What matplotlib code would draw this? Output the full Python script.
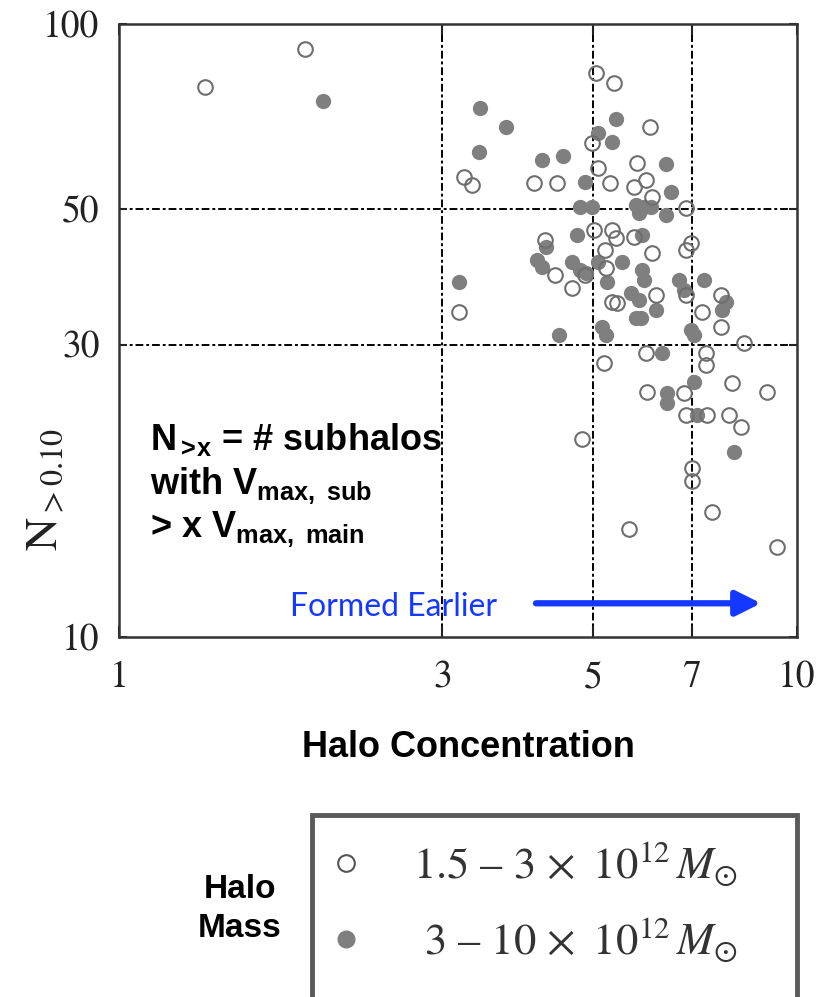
import matplotlib
matplotlib.use("Agg")
import matplotlib.pyplot as plt
from matplotlib.lines import Line2D
from matplotlib.patches import Rectangle
from matplotlib.ticker import FixedLocator, FixedFormatter, NullLocator

plt.rcParams['mathtext.fontset'] = 'custom'
plt.rcParams['mathtext.rm'] = 'Liberation Sans:bold'
plt.rcParams['mathtext.it'] = 'Liberation Sans:bold'
plt.rcParams['mathtext.bf'] = 'Liberation Sans:bold'
plt.rcParams['mathtext.sf'] = 'Liberation Sans:bold'

# halo mass 1.5-3 x 10^12 Msun (open circles)
conc_low = [1.34, 1.88, 3.23, 3.32, 4.10, 4.42, 3.17, 5.06, 5.38, 6.06,
            4.99, 5.08, 5.29, 5.81, 5.75, 5.99, 6.12, 6.86, 5.02, 5.34,
            5.41, 5.75, 6.12, 5.23, 4.86, 4.65, 5.34, 5.43, 6.20, 6.98,
            6.86, 6.86, 7.25, 7.73, 7.73, 8.35, 5.20, 5.99, 7.35, 7.35,
            6.01, 6.82, 8.02, 9.03, 6.86, 7.37, 7.94, 8.27, 4.82, 7.01,
            7.01, 7.50, 5.66, 9.34, 4.25, 4.39, 5.21]
nsub_low = [78.9, 91.0, 56.3, 54.6, 55.0, 55.0, 33.9, 83.2, 80.1, 67.9,
            63.9, 58.2, 55.0, 59.3, 54.2, 55.7, 52.2, 50.1, 46.1, 46.1,
            44.8, 44.9, 42.3, 40.0, 38.9, 37.1, 35.2, 35.1, 36.1, 43.9,
            42.8, 36.1, 33.9, 36.1, 32.0, 30.2, 28.0, 29.1, 29.1, 27.8,
            25.1, 25.0, 26.0, 25.1, 23.0, 23.0, 23.0, 22.0, 21.0, 18.9,
            18.0, 16.0, 15.0, 14.0, 44.4, 38.9, 42.8]

# halo mass 3-10 x 10^12 Msun (filled circles)
conc_high = [2.00, 3.41, 3.72, 3.40, 4.20, 4.51, 4.86, 4.78, 4.99, 5.41,
             5.08, 5.34, 6.41, 6.52, 5.79, 5.95, 6.10, 5.85, 6.41, 4.74,
             5.91, 4.66, 4.78, 5.08, 5.25, 5.51, 5.91, 5.95, 5.69, 5.85,
             5.79, 5.89, 6.20, 5.16, 5.23, 4.46, 6.70, 6.82, 6.98, 7.30,
             7.86, 7.76, 7.05, 3.17, 4.27, 4.13, 4.21, 4.89, 6.33, 7.05,
             6.43, 6.43, 7.12, 8.08]
nsub_high = [74.9, 72.9, 67.9, 61.8, 60.0, 60.9, 55.2, 50.3, 50.3, 70.0,
             66.4, 64.2, 59.1, 53.2, 50.7, 50.3, 50.3, 49.2, 48.8, 45.3,
             45.3, 40.9, 39.7, 40.9, 37.9, 40.9, 39.7, 38.2, 36.4, 35.5,
             33.1, 33.1, 34.2, 32.0, 31.1, 31.1, 38.2, 36.8, 31.7, 38.2,
             35.2, 34.2, 31.1, 37.9, 43.3, 41.2, 40.1, 39.3, 29.1, 26.1,
             25.0, 24.1, 23.0, 20.0]

xticks = [1, 3, 5, 7, 10]
yticks = [10, 30, 50, 100]
xgrid = [3, 5, 7]
ygrid = [30, 50]

gray = '#7f7f7f'
serif = 'STIXGeneral'

fig = plt.figure(figsize=(8.25, 9.97), dpi=100)
ax = fig.add_axes([119/825, 1 - 637/997, 678/825, 613/997])
ax.set_xscale('log')
ax.set_yscale('log')
ax.set_xlim(1, 10)
ax.set_ylim(10, 100)

for g in xgrid:
    ax.axvline(g, color='black', lw=1.4, ls=(0, (4, 1.5, 1.5, 1.5)), zorder=1)
for g in ygrid:
    ax.axhline(g, color='black', lw=1.4, ls=(0, (4, 1.5, 1.5, 1.5)), zorder=1)

ax.plot(conc_high, nsub_high, 'o', ms=11, mfc=gray, mec=gray, mew=0, zorder=3)
ax.plot(conc_low, nsub_low, 'o', ms=10.5, mfc='none', mec='#6e6e6e', mew=1.5, zorder=4)

ax.xaxis.set_major_locator(FixedLocator(xticks))
ax.xaxis.set_major_formatter(FixedFormatter([str(t) for t in xticks]))
ax.yaxis.set_major_locator(FixedLocator(yticks))
ax.yaxis.set_major_formatter(FixedFormatter([str(t) for t in yticks]))
ax.xaxis.set_minor_locator(NullLocator())
ax.yaxis.set_minor_locator(NullLocator())
ax.tick_params(axis='x', direction='in', length=8, width=1.5, pad=17,
               top=True, labelsize=27, colors='#222222')
ax.tick_params(axis='y', direction='in', length=6, width=1.5, pad=14,
               right=True, labelsize=27, colors='#222222')
for lab in ax.get_xticklabels() + ax.get_yticklabels():
    lab.set_fontfamily(serif)
for s in ax.spines.values():
    s.set_color('#333333')
    s.set_linewidth(1.8)

# annotation
ax.text(0.046, 0.305, r'N$_{>\!x}$ = # subhalos', transform=ax.transAxes,
        fontsize=26, fontweight='bold', family='Liberation Sans', va='baseline')
ax.text(0.046, 0.233, r'with V$_{\mathrm{max,\ sub}}$', transform=ax.transAxes,
        fontsize=26, fontweight='bold', family='Liberation Sans', va='baseline')
ax.text(0.046, 0.163, r'> x V$_{\mathrm{max,\ main}}$', transform=ax.transAxes,
        fontsize=26, fontweight='bold', family='Liberation Sans', va='baseline')

ax.text(0.252, 0.049, 'Formed Earlier', transform=ax.transAxes, fontsize=23,
        family='Lato', color='#1438ff', va='center', ha='left')
ax.annotate('', xy=(0.947, 0.055), xytext=(0.615, 0.055),
            xycoords='axes fraction', textcoords='axes fraction',
            arrowprops=dict(arrowstyle='-|>,head_length=1.5,head_width=0.75',
                            color='#1438ff', lw=4.5, shrinkA=0, shrinkB=0))

fig.text(45/825, 1 - 490/997, r'$\mathrm{N}_{>0.10}$', rotation=90,
         ha='center', va='center', fontsize=33, color='#222222',
         math_fontfamily='stix')

fig.text(468/825, 1 - 747/997, 'Halo Concentration', ha='center', va='center',
         fontsize=26, fontweight='bold', family='Liberation Sans')
fig.text(240/825, 1 - 909/997, 'Halo\nMass', ha='center', va='center',
         fontsize=24, fontweight='bold', family='Liberation Sans', linespacing=1.3)

# legend
box = Rectangle((312/825, -0.05), (797-312)/825, 0.05 + 1 - 815/997,
                transform=fig.transFigure, fill=False, edgecolor='#5a5a5a',
                lw=3.5, clip_on=False)
fig.add_artist(box)
handles = [Line2D([], [], ls='', marker='o', ms=12, mfc='white', mec='#555555', mew=1.5),
           Line2D([], [], ls='', marker='o', ms=13, mfc=gray, mec=gray, mew=0)]
labels = [r'1.5 – 3 $\times\;\;10^{12}\,M_{\odot}$', r' 3 – 10 $\times\;\;10^{12}\,M_{\odot}$']
leg = fig.legend(handles, labels, loc='upper left', bbox_to_anchor=(326/825, 1 - 840/997),
                 frameon=False, borderpad=0, borderaxespad=0, handlelength=0.9,
                 handletextpad=1.05, labelspacing=0.62,
                 prop={'family': serif, 'size': 32})
for t in leg.get_texts():
    t.set_math_fontfamily('stix')
    t.set_color('#333333')

fig.savefig('out.png', dpi=100)
